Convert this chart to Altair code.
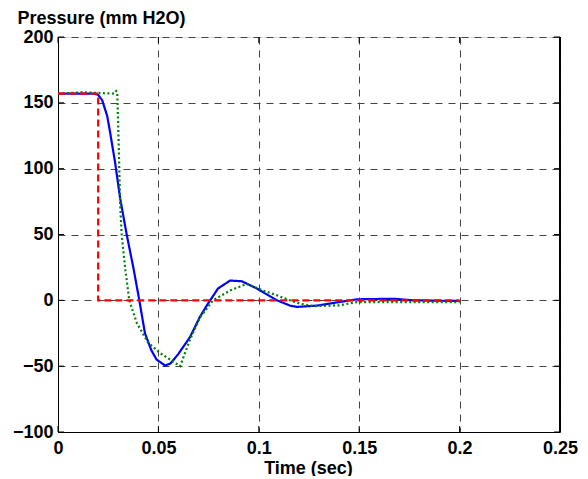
import altair as alt
import pandas as pd

# ---- data ----
x_ticks = [0, 0.05, 0.1, 0.15, 0.2, 0.25]
y_ticks = [-100, -50, 0, 50, 100, 150, 200]

blue_t = [0, 0.018, 0.02, 0.022, 0.0245, 0.0259, 0.0284, 0.031, 0.0342, 0.0375,
          0.0405, 0.0433, 0.0465, 0.0491, 0.0533, 0.056, 0.0598, 0.0657, 0.0707,
          0.0747, 0.0797, 0.0857, 0.0915, 0.099, 0.109, 0.1155, 0.119, 0.129,
          0.14, 0.149, 0.167, 0.177, 0.2]
blue_p = [157, 157, 156, 152, 140, 128, 105, 77, 50, 25,
          0, -25, -38, -45, -49.5, -48, -41, -28, -12.5,
          -2.5, 9, 15, 14.5, 9, 0, -4, -5, -4,
          -1.3, 0.8, 1.2, 0, -0.5]

green_t = [0, 0.012, 0.028, 0.029, 0.0295, 0.0302, 0.0309, 0.0317, 0.0334, 0.0355,
           0.0392, 0.0448, 0.0508, 0.0558, 0.0608, 0.0657, 0.0707, 0.0772, 0.0857,
           0.094, 0.102, 0.109, 0.1155, 0.1205, 0.127, 0.14, 0.149, 0.162, 0.2]
green_p = [157, 158, 157, 159, 158, 120, 75, 50, 25, 0,
           -17, -32, -40, -45, -50, -30, -13, 0, 7.5,
           12.5, 7.5, 3.8, 0, -2.5, -4.4, -3.8, -1.3, -1.3, -1.3]

red_t = [0, 0.02, 0.02, 0.2]
red_p = [157, 157, 0, 0]

series = [("measured", blue_t, blue_p), ("model", green_t, green_p), ("input", red_t, red_p)]
rows = []
for name, ts, ps in series:
    for i, (t, p) in enumerate(zip(ts, ps)):
        rows.append({"series": name, "t": t, "p": p, "i": i})
df = pd.DataFrame(rows)

W, H = 502, 395
FONT = "Liberation Sans"
TICK = 6

xs = alt.Scale(domain=[0, 0.25], nice=False, zero=False)
ys = alt.Scale(domain=[-100, 200], nice=False, zero=False)

xaxis = alt.Axis(values=x_ticks, format="~g", title="Time (sec)", grid=True,
                 gridColor="#444444", gridDash=[7, 6], gridWidth=1, gridOpacity=1,
                 domainColor="black", domainWidth=1, ticks=False, labelPadding=7,
                 labelFont=FONT, labelFontSize=18, labelFontWeight="bold", labelColor="black",
                 titleFont=FONT, titleFontSize=18, titleFontWeight="bold", titleColor="black",
                 titleX=250, titleY=41, titleBaseline="alphabetic", titleAlign="center",
                 labelFlush=False, labelOverlap=False)
yaxis = alt.Axis(values=y_ticks, format="d", title="Pressure (mm H2O)", grid=True,
                 gridColor="#444444", gridDash=[7, 6], gridWidth=1, gridOpacity=1,
                 domainColor="black", domainWidth=1, ticks=False, labelPadding=5,
                 labelFont=FONT, labelFontSize=18, labelFontWeight="bold", labelColor="black",
                 titleFont=FONT, titleFontSize=18, titleFontWeight="bold", titleColor="black",
                 titleAngle=0, titleX=-41, titleY=-14, titleAlign="left",
                 titleBaseline="alphabetic", labelFlush=False, labelOverlap=False)


def line(name, color, dash, width=2):
    return alt.Chart(df).transform_filter(alt.datum.series == name).mark_line(
        color=color, strokeWidth=width, strokeDash=dash, clip=True
    ).encode(
        x=alt.X("t:Q", scale=xs, axis=xaxis),
        y=alt.Y("p:Q", scale=ys, axis=yaxis),
        order="i:Q",
    )


blue = line("measured", "#0000ff", [1, 0], 2.2)
green = line("model", "#008000", [2, 2.5], 2.2)
red = line("input", "#ff0000", [7, 4], 2.2)

ydf = pd.DataFrame({"y": y_ticks})
xdf = pd.DataFrame({"x": x_ticks})

ytick_left = alt.Chart(ydf).mark_rule(color="black", strokeWidth=1).encode(
    y=alt.Y("y:Q", scale=ys, axis=yaxis), x=alt.value(0), x2=alt.value(TICK))
ytick_right = alt.Chart(ydf).mark_rule(color="black", strokeWidth=1).encode(
    y=alt.Y("y:Q", scale=ys, axis=yaxis), x=alt.value(W - TICK), x2=alt.value(W))
xtick_bottom = alt.Chart(xdf).mark_rule(color="black", strokeWidth=1).encode(
    x=alt.X("x:Q", scale=xs, axis=xaxis), y=alt.value(H), y2=alt.value(H - TICK))
xtick_top = alt.Chart(xdf).mark_rule(color="black", strokeWidth=1).encode(
    x=alt.X("x:Q", scale=xs, axis=xaxis), y=alt.value(0), y2=alt.value(TICK))
right_edge = alt.Chart(xdf).mark_rule(color="black", strokeWidth=1).encode(
    x=alt.datum(0.25, scale=xs), y=alt.value(0), y2=alt.value(H))

chart = alt.layer(
    ytick_left, ytick_right, xtick_bottom, xtick_top, right_edge, blue, green, red
).properties(
    width=W, height=H,
    autosize=alt.AutoSizeParams(type="none"),
    padding={"left": 50, "top": 29, "right": 20, "bottom": 44},
).configure_view(stroke=None).configure(background="white")

chart.save("out.html", embed_options={"renderer": "svg", "actions": False})
